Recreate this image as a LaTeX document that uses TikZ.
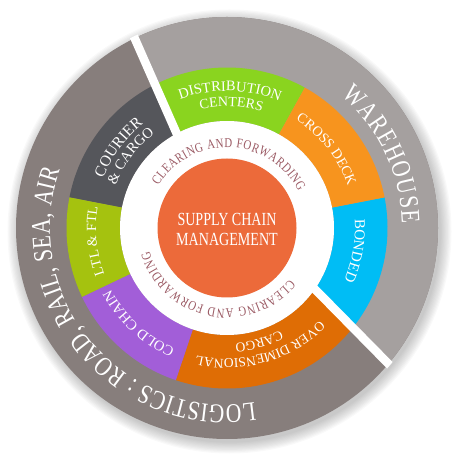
\documentclass[tikz,border=0pt]{standalone}
\usepackage{fontspec}
\setmainfont{Liberation Serif}
\newfontfamily\ringfont[FakeStretch=0.8]{Liberation Serif}
\newfontfamily\labfont{Liberation Serif}
\newfontfamily\centerfont[FakeStretch=0.76]{Liberation Serif}
\usetikzlibrary{decorations.text}
\definecolor{logi}{HTML}{877E7C}
\definecolor{ware}{HTML}{A5A09F}
\definecolor{distc}{HTML}{8AD41F}
\definecolor{crossc}{HTML}{F7941E}
\definecolor{bondc}{HTML}{00BDF5}
\definecolor{overc}{HTML}{DF6D05}
\definecolor{coldc}{HTML}{A25ED8}
\definecolor{ltlc}{HTML}{A5C20F}
\definecolor{courc}{HTML}{55565B}
\definecolor{scmc}{HTML}{EC6A3A}
\definecolor{clearc}{HTML}{9B5A64}
% text fitted between two angles
\newcommand{\arctext}[5]{\path[decorate, decoration={text along path, text={|#4|#5}, text align={fit to path}}] (#1:#3) arc[start angle=#1, end angle=#2, radius=#3];}
% text centred on an angle: {mid angle}{radius}{size}{text}
\newcommand{\ctext}[4]{\path[decorate, decoration={text along path, text={|\labfont\fontsize{#3}{#3}\selectfont\color{white}|#4}, text align=center}] ({#1+45}:#2) arc[start angle={#1+45}, end angle={#1-45}, radius=#2];}
\newcommand{\sector}[3]{\fill[#3] (#1:107) arc[start angle=#1, end angle=#2, radius=107] -- (#2:160.5) arc[start angle=#2, end angle=#1, radius=160.5] -- cycle;}
\def\outerf{\ringfont\fontsize{27}{27}\selectfont\color{white}}
\def\clearf{\ringfont\fontsize{13.5}{13.5}\selectfont\color{clearc}}
\begin{document}
\begin{tikzpicture}[x=1pt,y=1pt,
  whiteline/.style={white, line width=8.5},
  centertext/.style={text=white, align=center, font=\centerfont\fontsize{18.5}{20}\selectfont, inner sep=0}]
\useasboundingbox (-227,-226) rectangle (226,228);
% shadow
\foreach \i in {1,...,10} \fill[black, opacity=0.022] (2.5,-3.5) circle ({210+\i*1.2});
% outer ring
\fill[logi] (0,0) circle (211);
\begin{scope}
  \clip (0,0) circle (211);
  \fill[ware] (-38.4,67.4) -- (-135,284.6) -- (400,400) -- (290,-266) -- cycle;
\end{scope}
% colored ring
\sector{61}{117}{distc}
\sector{117}{169}{courc}
\sector{169}{205.5}{ltlc}
\sector{205.5}{251.5}{coldc}
\sector{251.5}{323}{overc}
\sector{-37}{11}{bondc}
\sector{11}{61}{crossc}
% white separators
\begin{scope}
  \clip (0,0) circle (213);
  \coordinate (l1a) at (-40,71);
  \coordinate (l1b) at (-118,248);
  \coordinate (l2a) at (70,-43);
  \coordinate (l2b) at (200,-175);
  \draw[whiteline] (l1a) -- (l1b);
  \draw[whiteline] (l2a) -- (l2b);
\end{scope}
% white ring and center
\fill[white] (0,0) circle (107);
\fill[scmc] (0,0) circle (69.5);
\node[centertext] (scm) at (0,-1.5) {SUPPLY CHAIN\\MANAGEMENT};
% outer texts
\arctext{49.3}{1.5}{175}{\outerf}{WAREHOUSE}
\arctext{-81}{-199.2}{177}{\outerf}{LOGISTICS : ROAD, RAIL, SEA, AIR}
% ring labels
\ctext{88.75}{137}{14.5}{DISTRIBUTION}
\ctext{88}{121.5}{14}{CENTERS}
\ctext{38.25}{128}{14}{CROSS DECK}
\ctext{-10}{128}{15}{BONDED}
\ctext{-74.25}{131}{13.5}{OVER DIMENSIONAL}
\ctext{-74.25}{115.5}{13.5}{CARGO}
\ctext{227.25}{131.5}{14.5}{COLD CHAIN}
\ctext{185.75}{131}{14}{LTL {\&} FTL}
\ctext{143.5}{133.5}{15.5}{COURIER}
\ctext{143.25}{119}{14.5}{{\&} CARGO}
% inner ring texts
\arctext{148.5}{27.5}{80.5}{\clearf}{CLEARING AND FORWARDING}
\arctext{-39.5}{-163.5}{81}{\clearf}{CLEARING AND FORWARDING}
\end{tikzpicture}
\end{document}
